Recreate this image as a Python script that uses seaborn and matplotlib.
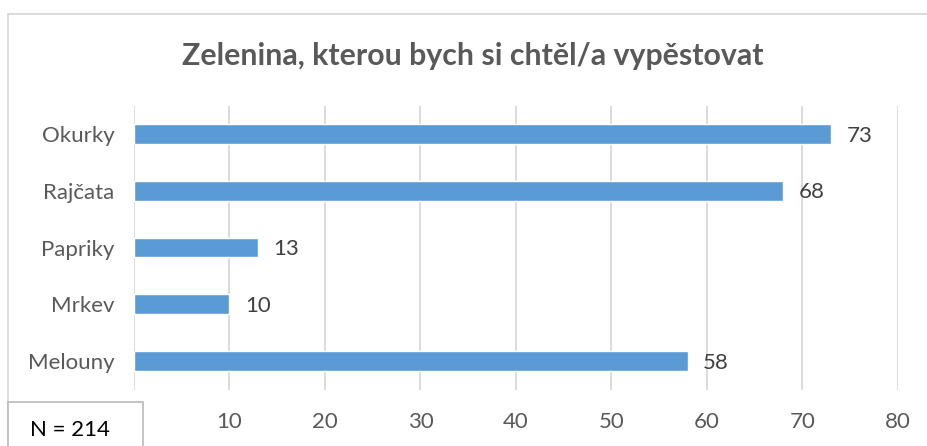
import matplotlib
matplotlib.use("Agg")
import matplotlib.pyplot as plt
import seaborn as sns
import pandas as pd
from matplotlib.patches import Rectangle
from matplotlib.lines import Line2D

categories = ["Okurky", "Rajčata", "Papriky", "Mrkev", "Melouny"]
values = [73, 68, 13, 10, 58]
x_ticks = [0, 10, 20, 30, 40, 50, 60, 70, 80]
title = "Zelenina, kterou bych si chtěl/a vypěstovat"
note = "N = 214"

sns.set_theme(style="white")
plt.rcParams["font.family"] = ["Lato", "DejaVu Sans"]

TEXT = "#595959"
GRID = "#D9D9D9"
BAR = "#5B9BD5"

W, H = 928, 446
fig = plt.figure(figsize=(W / 100, H / 100), dpi=100)
ax = fig.add_axes([134 / W, 1 - 389.5 / H, (898 - 134) / W, (389.5 - 105.5) / H])

df = pd.DataFrame({"cat": categories, "val": values})
sns.barplot(data=df, x="val", y="cat", orient="h", color=BAR, width=0.35,
            saturation=1, ax=ax, zorder=3)

ax.set_xlim(0, 80)
ax.set_xticks(x_ticks)
ax.set_xticklabels([str(t) for t in x_ticks])
ax.set_xlabel("")
ax.set_ylabel("")
for s in ax.spines.values():
    s.set_visible(False)
ax.grid(axis="x", color=GRID, linewidth=1.3, zorder=0)
ax.grid(axis="y", visible=False)
ax.tick_params(axis="both", length=0, labelsize=16, colors=TEXT)
ax.tick_params(axis="x", pad=16)
ax.tick_params(axis="y", pad=14)

for i, v in enumerate(values):
    ax.text(v + 1.6, i + 0.03, str(v), va="center", ha="left",
            fontsize=16, color="#404040")

fig.text(473 / W, 1 - 56 / H, title, ha="center", va="center",
         fontsize=21.8, fontweight="bold", color=TEXT)

# chart frame (top and left edges)
fig.add_artist(Line2D([7.5 / W, 1], [1 - 13.5 / H, 1 - 13.5 / H],
                      transform=fig.transFigure, color=GRID, linewidth=1.3))
fig.add_artist(Line2D([7.5 / W, 7.5 / W], [0, 1 - 13.5 / H],
                      transform=fig.transFigure, color=GRID, linewidth=1.3))

# sample size box
fig.add_artist(Rectangle((7.5 / W, -0.01), (143 - 7.5) / W, (446 - 401.5) / H + 0.01,
                         transform=fig.transFigure, facecolor="white",
                         edgecolor="#BFBFBF", linewidth=1.3, zorder=10))
fig.text(70 / W, 1 - 430 / H, note, ha="center", va="center",
         fontsize=16, color="black", zorder=11)

fig.savefig("out.png", dpi=100)
